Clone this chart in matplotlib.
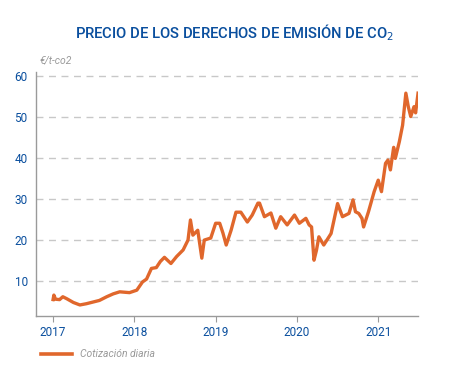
import matplotlib.pyplot as plt
from matplotlib.lines import Line2D

# fecha (año decimal) y cotización (€/t-co2)
fechas = [2017.00, 2017.01, 2017.03, 2017.08, 2017.12, 2017.17, 2017.25, 2017.33, 2017.41,
          2017.49, 2017.57, 2017.66, 2017.74, 2017.82, 2017.94, 2018.03, 2018.10, 2018.15,
          2018.21, 2018.27, 2018.32, 2018.37, 2018.45, 2018.52, 2018.60, 2018.66, 2018.69,
          2018.72, 2018.78, 2018.83, 2018.86, 2018.94, 2019.00, 2019.05, 2019.09, 2019.13,
          2019.19, 2019.25, 2019.31, 2019.39, 2019.45, 2019.52, 2019.54, 2019.60, 2019.68,
          2019.74, 2019.80, 2019.88, 2019.97, 2020.03, 2020.11, 2020.15, 2020.18, 2020.21,
          2020.24, 2020.27, 2020.33, 2020.42, 2020.50, 2020.56, 2020.64, 2020.69, 2020.72,
          2020.76, 2020.80, 2020.82, 2020.88, 2020.95, 2021.00, 2021.04, 2021.09, 2021.12,
          2021.15, 2021.19, 2021.21, 2021.26, 2021.30, 2021.34, 2021.37, 2021.40, 2021.44,
          2021.46, 2021.49]
precios = [5.5, 6.6, 5.6, 5.5, 6.2, 5.7, 4.8, 4.2, 4.5,
           4.9, 5.3, 6.2, 6.9, 7.4, 7.2, 7.8, 9.8, 10.5,
           13.1, 13.3, 14.8, 15.8, 14.3, 16.0, 17.6, 20.0, 24.9,
           21.2, 22.4, 15.6, 20.0, 20.5, 24.1, 24.1, 21.7, 18.8,
           22.4, 26.8, 26.8, 24.4, 26.1, 29.0, 29.0, 25.7, 26.6,
           22.9, 25.7, 23.7, 26.1, 24.1, 25.3, 23.7, 23.2, 15.1,
           17.5, 20.8, 18.8, 21.6, 28.9, 25.7, 26.5, 29.8, 26.9,
           26.5, 25.3, 23.2, 26.9, 31.8, 34.6, 31.8, 38.7, 39.5,
           37.1, 42.6, 39.9, 44.0, 48.0, 55.8, 52.5, 50.1, 52.5,
           51.0, 55.8]

anios = [2017, 2018, 2019, 2020, 2021]
niveles = [10, 20, 30, 40, 50, 60]

azul = '#0a4f9e'
naranja = '#e0672c'
gris = '#9a9a9a'

fig = plt.figure(figsize=(4.5, 3.74), dpi=100)
ax = fig.add_axes([0.08, 0.155, 0.849, 0.653])

ax.plot(fechas, precios, color=naranja, lw=2.4, solid_joinstyle='round')

ax.set_xlim(2016.79, 2021.49)
ax.set_ylim(1.5, 61)
ax.set_xticks(anios)
ax.set_xticklabels([str(a) for a in anios], color=azul, fontsize=8.5,
                   family='Roboto')
ax.set_yticks(niveles)
ax.set_yticklabels([str(n) for n in niveles], color=azul, fontsize=8.5,
                   family='Roboto')
ax.tick_params(axis='y', length=0, pad=6)
ax.tick_params(axis='x', length=4, color=gris, width=0.8, pad=3)
ax.grid(axis='y', color='#c8c8c8', ls=(0, (5, 4)), lw=1)
for s in ['top', 'right']:
    ax.spines[s].set_visible(False)
for s in ['left', 'bottom']:
    ax.spines[s].set_color(gris)
    ax.spines[s].set_linewidth(1)

fig.text(0.522, 0.912, 'PRECIO DE LOS DERECHOS DE EMISIÓN DE CO$_2$',
         ha='center', va='center', color=azul, fontsize=10.6, weight='medium',
         family=['Roboto', 'DejaVu Sans'])
fig.text(0.087, 0.838, '€/t-co2', color=gris, fontsize=7.5, style='italic',
         ha='left', va='center', family='Roboto')

leyenda = [Line2D([], [], color=naranja, lw=2.6)]
fig.legend(leyenda, ['Cotización diaria'], loc='center left',
           bbox_to_anchor=(0.07, 0.053), frameon=False, handlelength=3,
           prop={'style': 'italic', 'size': 7.5, 'family': 'Roboto'},
           labelcolor=gris)

fig.savefig('out.png', dpi=100)
